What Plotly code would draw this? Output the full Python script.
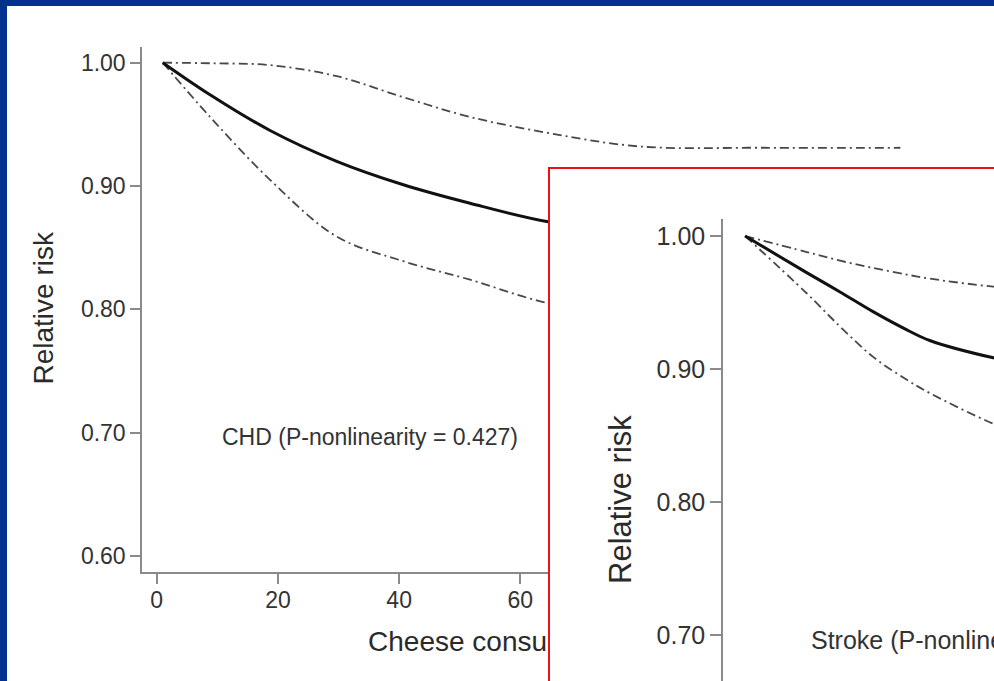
import plotly.graph_objects as go

# Dose-response of cheese intake (g/day) vs relative risk
chd_x = [1, 8.8, 18.7, 29.7, 40.7, 51.7, 64.6, 79.8, 100, 122.7]
chd_rr = [1.00, 0.974, 0.945, 0.920, 0.901, 0.886, 0.871, 0.862, 0.855, 0.850]
chd_upper = [1.00, 0.9995, 0.998, 0.989, 0.972, 0.956, 0.943, 0.932, 0.931, 0.931]
chd_lower = [1.00, 0.956, 0.905, 0.859, 0.839, 0.824, 0.805, 0.795, 0.785, 0.775]

stroke_x = [1, 10.4, 15.5, 20.6, 25.7, 29.2, 38.9, 45]
stroke_rr = [1.00, 0.9725, 0.958, 0.943, 0.9295, 0.9215, 0.9085, 0.903]
stroke_upper = [1.00, 0.988, 0.9815, 0.976, 0.971, 0.968, 0.962, 0.960]
stroke_lower = [1.00, 0.957, 0.932, 0.909, 0.892, 0.882, 0.859, 0.848]

y_ticks = [0.60, 0.70, 0.80, 0.90, 1.00]
x_ticks = [0, 20, 40, 60, 80, 100, 120]

chd_label = "CHD (P-nonlinearity = 0.427)"
stroke_label = "Stroke (P-nonlinearity = 0.021)"
x_title = "Cheese consumption (g/day)"
y_title = "Relative risk"

FONT = "Arial, Liberation Sans, Helvetica, sans-serif"
W, H = 994, 681
BLUE = "#04308f"
AXIS = "#8a8a8a"
CI_STYLE = dict(color="#484848", width=1.8, dash="9px,4px,2px,4px")
MAIN_XRANGE = [-2.43, 136.5]

fig = go.Figure()

# main CHD panel (subplot xy)
for ys, style in [(chd_upper, CI_STYLE), (chd_lower, CI_STYLE),
                  (chd_rr, dict(color="#111111", width=3))]:
    fig.add_trace(go.Scatter(x=chd_x, y=ys, mode="lines", line=dict(shape="spline", **style),
                             xaxis="x", yaxis="y", showlegend=False, hoverinfo="skip"))

# strip below the main panel holding its x-axis title (subplot x2y2),
# drawn as a trace so the inset frame can sit on top of it
fig.add_trace(go.Scatter(x=[64.4], y=[0.36], mode="text", text=[x_title],
                         textposition="middle center",
                         textfont=dict(family=FONT, size=28, color="#2a2a2a"),
                         xaxis="x2", yaxis="y2", showlegend=False, hoverinfo="skip"))

# white inset frame with red border (subplot x3y3)
fig.add_trace(go.Scatter(x=[], y=[], xaxis="x3", yaxis="y3", showlegend=False, hoverinfo="skip"))

# stroke inset panel (subplot x4y4)
for ys, style in [(stroke_upper, CI_STYLE), (stroke_lower, CI_STYLE),
                  (stroke_rr, dict(color="#111111", width=3))]:
    fig.add_trace(go.Scatter(x=stroke_x, y=ys, mode="lines", line=dict(shape="spline", **style),
                             xaxis="x4", yaxis="y4", showlegend=False, hoverinfo="skip"))

tick_font_main = dict(family=FONT, size=23, color="#333333")
tick_font_inset = dict(family=FONT, size=25, color="#333333")
hidden = dict(showline=False, showticklabels=False, ticks="", showgrid=False, zeroline=False)


def px_x(p):
    return p / W


def px_y(p):
    return 1 - p / H


fig.update_layout(
    width=W, height=H,
    margin=dict(l=0, r=0, t=0, b=0),
    paper_bgcolor=BLUE,
    plot_bgcolor="white",
    font=dict(family=FONT, color="#333333"),
    xaxis=dict(domain=[px_x(142), px_x(984)], range=MAIN_XRANGE, anchor="y",
               tickvals=x_ticks, ticks="outside", ticklen=10, tickwidth=1.5, tickcolor=AXIS,
               showline=True, linecolor=AXIS, linewidth=1.5, showgrid=False, zeroline=False,
               tickfont=tick_font_main, ticklabelstandoff=-3),
    yaxis=dict(domain=[px_y(572), px_y(47)], range=[0.587, 1.0127], anchor="x",
               tickvals=y_ticks, tickformat=".2f", ticks="outside", ticklen=10, tickwidth=1.5,
               tickcolor=AXIS, showline=True, linecolor=AXIS, linewidth=1.5, showgrid=False,
               zeroline=False, tickfont=tick_font_main),
    xaxis2=dict(domain=[px_x(142), px_x(984)], range=MAIN_XRANGE, anchor="y2", **hidden),
    yaxis2=dict(domain=[0, 0.15], range=[0, 1], anchor="x2", **hidden),
    xaxis3=dict(domain=[px_x(550), 1], range=[0, 1], anchor="y3", side="top",
                showline=True, linecolor="#ee1111", linewidth=2, showticklabels=False,
                ticks="", showgrid=False, zeroline=False),
    yaxis3=dict(domain=[0, px_y(169)], range=[0, 1], anchor="x3", side="left",
                showline=True, linecolor="#ee1111", linewidth=2, showticklabels=False,
                ticks="", showgrid=False, zeroline=False),
    xaxis4=dict(domain=[px_x(723), 1], range=[-2.37, 39.0], anchor="y4", **hidden),
    yaxis4=dict(domain=[0, px_y(219)], range=[0.6657, 1.0128], anchor="x4",
                tickvals=y_ticks, tickformat=".2f", ticks="outside", ticklen=11, tickwidth=1.5,
                tickcolor=AXIS, showline=True, linecolor=AXIS, linewidth=1.5, showgrid=False,
                zeroline=False, tickfont=tick_font_inset),
    shapes=[dict(type="rect", xref="paper", yref="paper", x0=px_x(7), x1=1, y0=0, y1=px_y(6),
                 fillcolor="white", line=dict(width=0), layer="below")],
    annotations=[
        dict(text=y_title, xref="paper", yref="paper", x=px_x(43), y=px_y(308.5),
             xanchor="center", yanchor="middle", textangle=-90, showarrow=False,
             font=dict(family=FONT, size=28, color="#2a2a2a")),
        dict(text=chd_label, xref="x", yref="y", x=10.4, y=0.6965,
             xanchor="left", yanchor="middle", showarrow=False,
             font=dict(family=FONT, size=23, color="#333333")),
        dict(text=y_title, xref="paper", yref="paper", x=px_x(620), y=px_y(500),
             xanchor="center", yanchor="middle", textangle=-90, showarrow=False,
             font=dict(family=FONT, size=31, color="#2a2a2a")),
        dict(text=stroke_label, xref="x4", yref="y4", x=10.7, y=0.6965,
             xanchor="left", yanchor="middle", showarrow=False,
             font=dict(family=FONT, size=25, color="#333333")),
    ],
)

fig.write_html("out.html")
